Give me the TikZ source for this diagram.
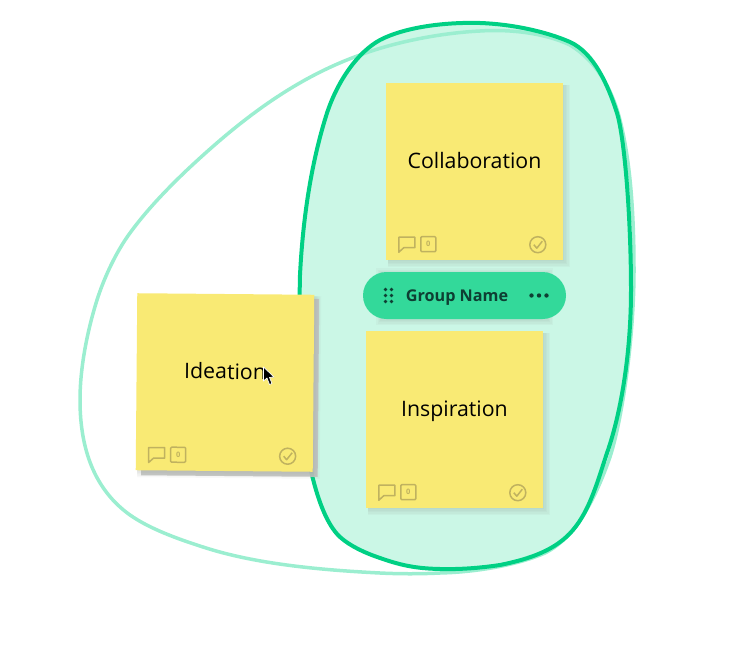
\documentclass[tikz,border=0pt]{standalone}
\usepackage{fontspec}
\setmainfont{Open Sans}
\usepackage{tikz}
\usetikzlibrary{arrows.meta,calc}
\definecolor{gruen}{HTML}{00D084}
\definecolor{gruenl}{HTML}{CBF7E6}
\definecolor{gruenm}{HTML}{9BEED0}
\definecolor{pille}{HTML}{33D99A}
\definecolor{pillet}{HTML}{0E3F33}
\definecolor{zettel}{HTML}{F9EA74}
\definecolor{symb}{HTML}{C0B25F}
\definecolor{schatten}{HTML}{8A8F88}
\definecolor{schattenh}{HTML}{C6C8C6}
\tikzset{
  zettelbox/.style={fill=zettel,draw=none,minimum width=177pt,minimum height=177pt,inner sep=0pt,transform shape},
  zetteltext/.style={inner sep=0pt,anchor=base,font=\fontsize{21.3}{25}\selectfont,text=black,transform shape},
  symbol/.style={symb,line width=1.5pt,line join=round},
  hauch/.style={fill=schatten,draw=none,opacity=0.06},
}
% outline of the group
\newcommand{\gruppenform}{(300,275) .. controls (303,215) and (312,160) .. (327,113)
    .. controls (338,80) and (358,52) .. (380,40)
    .. controls (405,27) and (445,22) .. (480,23)
    .. controls (510,24) and (545,31) .. (570,42)
    .. controls (594,53) and (608,85) .. (617,113)
    .. controls (625,140) and (631,220) .. (631,290)
    .. controls (631,350) and (622,410) .. (607,453)
    .. controls (598,480) and (590,510) .. (573,530)
    .. controls (556,550) and (530,559) .. (500,565)
    .. controls (480,568) and (460,569.5) .. (440,569)
    .. controls (415,568.5) and (400,565) .. (380,558)
    .. controls (365,553) and (350,546) .. (340,537)
    .. controls (327,525) and (318,500) .. (312,475)
    .. controls (304,440) and (298,350) .. (300,275) -- cycle}
% one sticky note: centre x, centre y, name, text
\newcommand{\notiz}[4]{
  \foreach \d in {7,5.5,4,2.5,1}{
    \fill[hauch] ($(#1,#2)+(-87,-87)$) rectangle ($(#1,#2)+(88.5+\d,88.5+\d)$);}
  \node[zettelbox] (#3) at (#1,#2) {};
  \node[zetteltext] (#3text) at ($(#1,#2)+(0,-3.5)$) {#4};
  \begin{scope}[shift={(#3.south west)}]
    \draw[symbol] (13,-12.5) -- (13,-23) -- (29,-23) -- (29,-12.5) -- (18,-12.5) -- (13,-8) -- cycle;
    \draw[symbol,rounded corners=1pt] (35,-8.5) rectangle (50,-23.5);
    \node[symb,font=\bfseries\fontsize{7.5}{7.5}\selectfont,inner sep=0pt] (#3zahl) at (42.5,-16) {0};
    \draw[symbol] (152,-15.5) circle (8);
    \draw[symbol] (148,-15.5) -- (151,-12) -- (156.5,-19);
  \end{scope}
}
\begin{document}
\begin{tikzpicture}[x=1pt,y=-1pt]
  \useasboundingbox (0,0) rectangle (731,645);
  % group outlines
  \fill[gruenl] \gruppenform;
  \draw[gruenm,line width=3.5pt] (360,55) .. controls (290,80) and (235,125) .. (187,170)
    .. controls (166,190) and (146,211) .. (130,233)
    .. controls (116,252) and (104,278) .. (97,300)
    .. controls (87,332) and (80,368) .. (80,400)
    .. controls (80,450) and (95,490) .. (130,515)
    .. controls (150,529) and (178,539) .. (203,547)
    .. controls (255,564) and (320,570) .. (380,573)
    .. controls (400,574) and (420,574) .. (440,573)
    .. controls (480,572) and (520,564) .. (545,553)
    .. controls (575,538) and (595,500) .. (610,457)
    .. controls (622,420) and (634,340) .. (634,270)
    .. controls (634,210) and (630,160) .. (620,120)
    .. controls (612,88) and (595,60) .. (570,45)
    .. controls (545,33) and (510,29) .. (480,31)
    .. controls (440,33) and (395,42) .. (360,55) -- cycle;
  \draw[gruen,line width=4pt] \gruppenform;
  % notes in the group
  \notiz{474.5}{171.5}{collab}{Collaboration}
  \notiz{454.5}{419.5}{inspir}{Inspiration}
  % group label
  \foreach \d in {5,3.5,2,0.8}{
    \fill[hauch] (381-\d,273-\d) rectangle (548+\d,320+\d);}
  \node[fill=pille,rounded corners=23.5pt,minimum width=203pt,minimum height=47pt,inner sep=0pt] (gruppe) at (464.5,295.5) {};
  \node[text=pillet,anchor=base,font=\bfseries\fontsize{16.2}{18}\selectfont,inner sep=0pt] (gruppename) at (457,301.7) {Group Name};
  \foreach \x in {385.5,391.5}{
    \foreach \y in {289.5,295.5,301.5}{\fill[pillet] (\x,\y) circle (1.8);}}
  \foreach \x in {531.5,539,546.5}{\fill[pillet] (\x,295.5) circle (2.2);}
  % dragged note
  \begin{scope}[rotate around={-0.5:(225,382)}]
    \fill[schattenh,opacity=0.9] (142,298) rectangle (318.5,476);
    \notiz{225}{382.5}{ideation}{Ideation}
  \end{scope}
  % cursor
  \draw[fill=black,draw=white,line width=0.7pt,line join=round] (263.5,367) -- (263.5,381) -- (267,378) -- (269.5,384.5) -- (272,383.5) -- (269.5,377.5) -- (274,377) -- cycle;
\end{tikzpicture}
\end{document}
